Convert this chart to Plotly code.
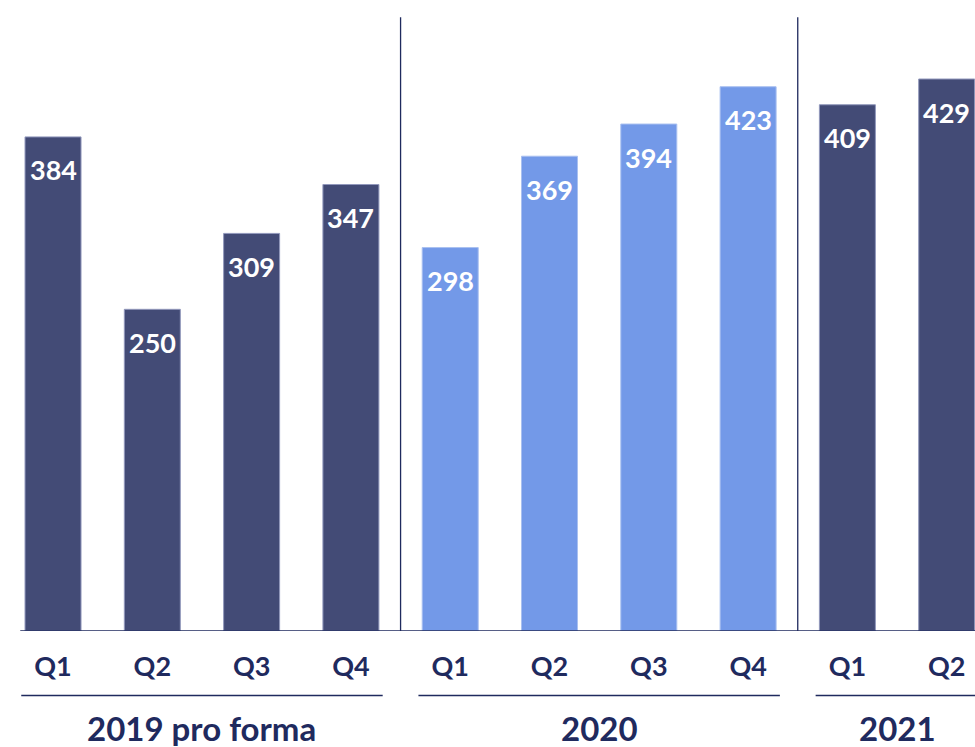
import plotly.graph_objects as go

# Quarterly figures, grouped by year
periods = ["2019 pro forma"] * 4 + ["2020"] * 4 + ["2021"] * 2
quarters = ["Q1", "Q2", "Q3", "Q4", "Q1", "Q2", "Q3", "Q4", "Q1", "Q2"]
values = [384, 250, 309, 347, 298, 369, 394, 423, 409, 429]
group_names = ["2019 pro forma", "2020", "2021"]

NAVY = "#1F2A5E"
DARK = "#434B76"
LIGHT = "#7399E8"

cats = [f"{p} {q}" for p, q in zip(periods, quarters)]
colors = [LIGHT if p == "2020" else DARK for p in periods]
edges = ["#A9C0F0" if p == "2020" else "#9298BC" for p in periods]

fig = go.Figure(
    go.Bar(
        x=cats,
        y=values,
        width=0.564,
        marker=dict(color=colors, line=dict(color=edges, width=1)),
        hoverinfo="skip",
    )
)

# value labels inside the top of each bar
for c, v in zip(cats, values):
    fig.add_annotation(
        x=c, y=v, xref="x", yref="y", text=f"<b>{v}</b>", showarrow=False,
        yshift=-33, font=dict(family="Lato", size=27, color="white"),
    )

# year separators and baseline
for g in group_names[1:]:
    first = min(i for i, p in enumerate(periods) if p == g)
    fig.add_shape(type="line", xref="x", yref="y", x0=first - 0.5, x1=first - 0.5,
                  y0=0, y1=477, line=dict(color=NAVY, width=1.3))
fig.add_shape(type="line", xref="x", yref="y", x0=-0.33, x1=9.4, y0=0, y1=0,
              line=dict(color=NAVY, width=1.5))

# group underlines and captions
for g in group_names:
    members = [i for i, p in enumerate(periods) if p == g]
    lo, hi = min(members), max(members)
    fig.add_shape(type="line", xref="x", yref="paper", x0=lo - 0.32, x1=hi + 0.32,
                  y0=-0.1022, y1=-0.1022, line=dict(color=NAVY, width=1.5))
    fig.add_annotation(
        x=(lo + hi) / 2, y=-0.1537, xref="x", yref="paper", yanchor="middle",
        text=f"<b>{g}</b>", showarrow=False,
        font=dict(family="Lato", size=33, color=NAVY),
    )

fig.update_layout(
    width=975, height=747,
    margin=dict(l=0, r=0, t=0, b=116),
    paper_bgcolor="white", plot_bgcolor="white",
    showlegend=False,
    xaxis=dict(
        type="category", categoryorder="array", categoryarray=cats,
        range=[-0.534, 9.285],
        tickvals=cats, ticktext=[f"<b>{q}</b>" for q in quarters],
        tickfont=dict(family="Lato", size=27, color=NAVY),
        ticks="outside", ticklen=12, tickcolor="rgba(0,0,0,0)",
        showgrid=False, zeroline=False, showline=False,
    ),
    yaxis=dict(range=[0, 490.4], visible=False, showgrid=False, zeroline=False),
)

fig.write_html("out.html")
